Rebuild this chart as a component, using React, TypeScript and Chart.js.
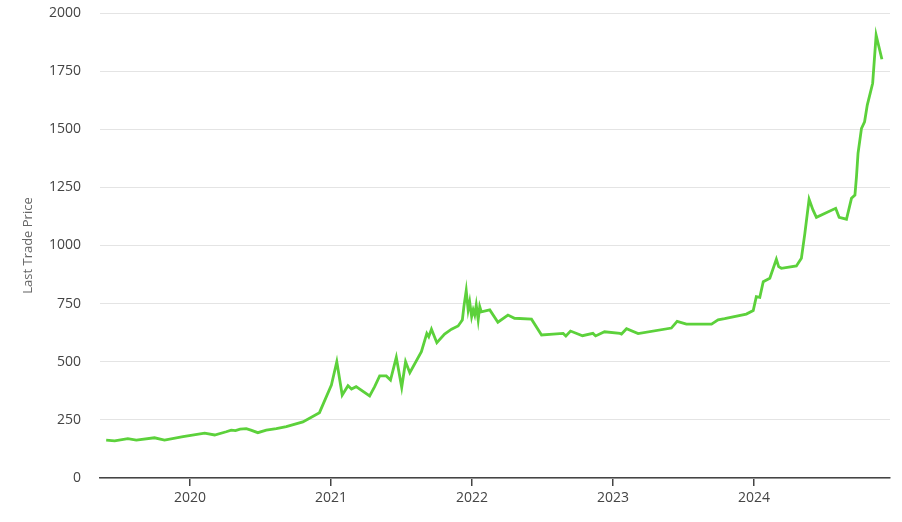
import React, { useEffect, useRef } from "react";
import { Chart, registerables } from "chart.js";

Chart.register(...registerables);

const DATES: string[] = [
  "2019-05-29", "2019-06-20", "2019-07-24", "2019-08-15", "2019-10-01", "2019-10-27", "2019-12-14",
  "2020-02-08", "2020-03-05", "2020-04-04", "2020-04-17", "2020-04-28", "2020-05-10", "2020-05-26",
  "2020-06-07", "2020-06-25", "2020-07-17", "2020-08-12", "2020-09-07", "2020-10-20", "2020-12-02",
  "2021-01-02", "2021-01-16", "2021-01-30", "2021-02-14", "2021-02-23", "2021-03-07", "2021-04-11",
  "2021-04-24", "2021-05-07", "2021-05-24", "2021-06-04", "2021-06-19", "2021-07-03", "2021-07-13",
  "2021-07-24", "2021-08-23", "2021-09-06", "2021-09-11", "2021-09-18", "2021-10-02", "2021-10-22",
  "2021-11-09", "2021-11-26", "2021-12-02", "2021-12-07", "2021-12-11", "2021-12-17", "2021-12-22",
  "2021-12-26", "2021-12-31", "2022-01-04", "2022-01-08", "2022-01-12", "2022-01-17", "2022-01-21",
  "2022-01-25", "2022-02-16", "2022-03-09", "2022-04-04", "2022-04-21", "2022-06-04", "2022-06-30",
  "2022-07-30", "2022-08-25", "2022-09-01", "2022-09-13", "2022-10-14", "2022-11-10", "2022-11-17",
  "2022-12-10", "2023-01-19", "2023-01-23", "2023-02-05", "2023-03-07", "2023-06-01", "2023-06-16",
  "2023-07-10", "2023-09-13", "2023-09-30", "2023-10-17", "2023-12-12", "2023-12-30", "2024-01-07",
  "2024-01-16", "2024-01-25", "2024-02-11", "2024-02-28", "2024-03-05", "2024-03-12", "2024-04-20",
  "2024-05-03", "2024-05-12", "2024-05-23", "2024-06-02", "2024-06-11", "2024-07-31", "2024-08-09",
  "2024-08-28", "2024-09-10", "2024-09-19", "2024-09-23", "2024-09-27", "2024-10-06", "2024-10-14",
  "2024-10-21", "2024-11-04", "2024-11-13", "2024-11-28",
];

const PRICES: number[] = [
  163, 160, 169, 163, 173, 163, 178,
  193, 185, 199, 206, 204, 210, 212,
  206, 195, 206, 212, 221, 241, 281,
  400, 500, 357, 397, 383, 393, 353,
  393, 439, 439, 421, 519, 390, 500,
  453, 543, 622, 608, 640, 582, 619,
  640, 654, 668, 680, 737, 806, 723,
  758, 694, 723, 701, 744, 680, 737,
  715, 723, 670, 701, 687, 683, 615,
  619, 622, 611, 632, 612, 622, 611,
  629, 622, 619, 642, 621, 645, 674,
  662, 662, 680, 685, 705, 720, 780,
  777, 844, 859, 941, 909, 902, 912,
  945, 1052, 1199, 1153, 1121, 1160, 1121,
  1113, 1203, 1217, 1296, 1396, 1504, 1532,
  1604, 1698, 1905, 1801,
];

const YEAR_TICKS: number[] = [2020, 2021, 2022, 2023, 2024];
const Y_MIN = 0;
const Y_MAX = 2000;
const Y_STEP = 250;
const X_MIN_DATE = "2019-05-13";
const X_MAX_DATE = "2024-12-19";
const Y_TITLE = "Last Trade Price";

function toYear(d: string): number {
  const [y, m, day] = d.split("-").map(Number);
  const start = Date.UTC(y, 0, 1);
  const end = Date.UTC(y + 1, 0, 1);
  const t = Date.UTC(y, m - 1, day);
  return y + (t - start) / (end - start);
}

export default function App() {
  const ref = useRef<HTMLCanvasElement | null>(null);

  useEffect(() => {
    if (!ref.current) return;
    const font = "'Open Sans', 'Segoe UI', sans-serif";
    const chart = new Chart(ref.current, {
      type: "line",
      data: {
        datasets: [
          {
            label: Y_TITLE,
            data: DATES.map((d, i) => ({ x: toYear(d), y: PRICES[i] })),
            borderColor: "#5cd13b",
            backgroundColor: "#5cd13b",
            borderWidth: 2.8,
            pointRadius: 0,
            tension: 0,
            fill: false,
          },
        ],
      },
      options: {
        animation: false,
        responsive: false,
        maintainAspectRatio: false,
        layout: { padding: { left: 0, right: 12, top: 13, bottom: 0 } },
        plugins: { legend: { display: false }, tooltip: { enabled: false } },
        scales: {
          x: {
            type: "linear",
            min: toYear(X_MIN_DATE),
            max: toYear(X_MAX_DATE),
            afterBuildTicks: (scale: any) => {
              scale.ticks = YEAR_TICKS.map((v) => ({ value: v }));
            },
            afterFit: (scale: any) => {
              scale.height = 44;
              scale.paddingLeft = 0;
              scale.paddingRight = 0;
            },
            grid: {
              drawOnChartArea: false,
              drawTicks: true,
              tickLength: 8,
              color: "#444",
              lineWidth: 1.5,
            },
            border: { display: true, color: "#444", width: 1.5 },
            ticks: {
              color: "#444",
              font: { family: font, size: 14 },
              padding: 4,
              maxRotation: 0,
              callback: (v: any) => String(v),
            },
          },
          y: {
            type: "linear",
            min: Y_MIN,
            max: Y_MAX,
            afterFit: (scale: any) => {
              scale.width = 100;
              scale.paddingTop = 0;
              scale.paddingBottom = 0;
            },
            grid: { color: "#e4e4e4", lineWidth: 1, drawTicks: false },
            border: { display: false },
            ticks: {
              stepSize: Y_STEP,
              color: "#444",
              font: { family: font, size: 14 },
              padding: 19,
              callback: (v: any) => String(v),
            },
            title: {
              display: true,
              text: Y_TITLE,
              color: "#666",
              font: { family: font, size: 13 },
              padding: { top: 20, bottom: 0 },
            },
          },
        },
      },
    });
    return () => chart.destroy();
  }, []);

  return (
    <div style={{ position: "absolute", left: 0, top: 0, width: 902, height: 522, background: "#fff" }}>
      <canvas ref={ref} width={902} height={522} style={{ width: 902, height: 522 }} />
    </div>
  );
}
